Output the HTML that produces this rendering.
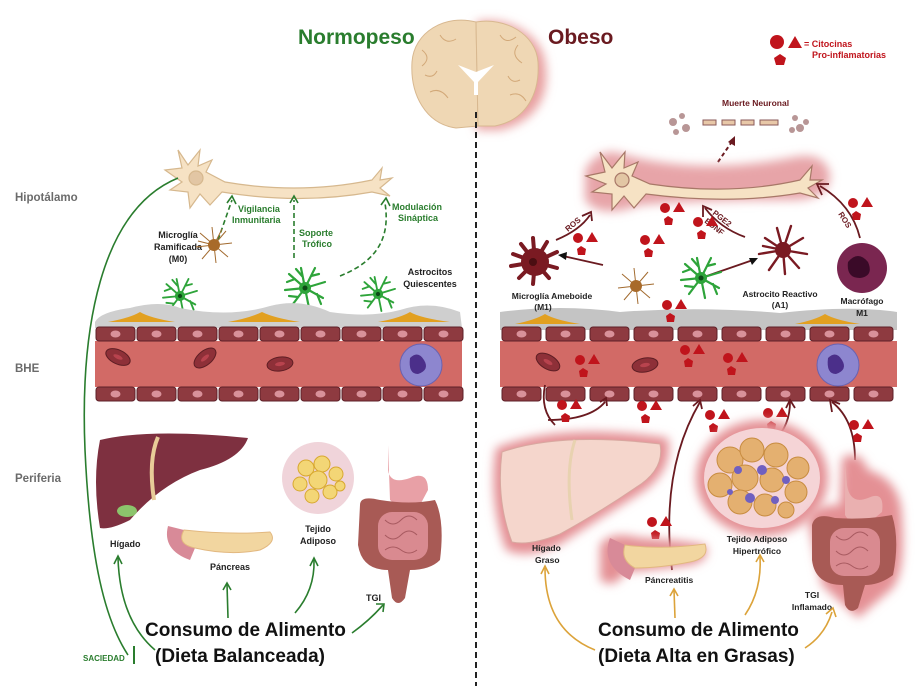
<!DOCTYPE html>
<html><head><meta charset="utf-8"><style>
html,body{margin:0;padding:0;background:#fff;}
svg{display:block;font-family:"Liberation Sans",sans-serif;}
.b{font-weight:bold;}
</style></head><body>
<svg width="915" height="686" viewBox="0 0 915 686" xmlns="http://www.w3.org/2000/svg">
<defs>
<filter id="glow" x="-30%" y="-30%" width="160%" height="160%"><feGaussianBlur stdDeviation="5"/></filter>
<g id="cyt"><circle cx="0" cy="0" r="5" fill="#c0141c"/><polygon points="8,4 14,-6 20,4" fill="#c0141c"/><polygon points="3,8 8,11 7,17 0,17 -1,11" fill="#c0141c"/></g>
<g id="cell"><rect x="0" y="0" width="39" height="14" rx="3" fill="#8e3a40" stroke="#5e2028" stroke-width="1"/><ellipse cx="19.5" cy="7" rx="5" ry="3.5" fill="#d9919a"/></g>
<g id="astro" stroke="#2ea43a" stroke-width="2.2" fill="none" stroke-linecap="round">
<path d="M0 0 L-16 -14 M-10 -9 L-18 -6 M0 0 L-4 -20 M-3 -12 L-9 -19 M0 0 L10 -20 M6 -12 L14 -14 M0 0 L20 -6 M0 0 L18 10 M12 6 L16 16 M0 0 L4 20 M0 0 L-12 16 M-7 9 L-16 8 M0 0 L-20 2"/>
<circle r="6" fill="#2ea43a" stroke="none"/><circle r="2.5" fill="#0d4a16" stroke="none"/></g>
<g id="rbc"><ellipse rx="13" ry="7" fill="#8e3038" stroke="#5e1e24"/><ellipse rx="5" ry="2" fill="#b8434e"/></g>
</defs>

<text x="298" y="44" class="b" font-size="21" fill="#2a7d2e">Normopeso</text>
<text x="548" y="44" class="b" font-size="21" fill="#6a1a20">Obeso</text>

<!-- brain -->
<path d="M476 22 C505 16 540 32 545 62 C550 92 540 120 500 130 L476 130 Z" fill="#e8a0a0" filter="url(#glow)"/>
<path d="M476 22 C445 14 414 32 412 62 C410 95 426 124 456 128 L478 126 Z" fill="#efd7b4" stroke="#d8b890"/>
<path d="M476 22 C505 17 536 34 538 62 C540 94 526 120 495 126 L478 126 Z" fill="#efd7b4" stroke="#d8b890"/>
<path d="M458 65 L476 72 L494 65 L478 82 L478 95 L474 95 L474 82 Z" fill="#fff"/>
<path d="M422 50 q10 8 0 16 M430 92 q10 -5 18 6 M518 45 q-8 10 4 18 M510 95 q10 -4 16 6 M440 35 q6 10 16 4 M500 35 q6 10 16 2 M425 75 q8 4 12 -4 M520 80 q-8 4 -12 -4" stroke="#d2a878" fill="none"/>

<circle cx="777" cy="42" r="7" fill="#c0141c"/><polygon points="788,48 795,36 802,48" fill="#c0141c"/><polygon points="780,54 786,58 784,65 776,65 774,58" fill="#c0141c"/>
<text x="804" y="47" class="b" font-size="9" fill="#c0141c">= Citocinas</text>
<text x="812" y="58" class="b" font-size="9" fill="#c0141c">Pro-inflamatorias</text>

<line x1="476" y1="112" x2="476" y2="686" stroke="#222" stroke-width="2" stroke-dasharray="6,4"/>

<text x="15" y="201" class="b" font-size="11.5" fill="#6b6b6b">Hipotálamo</text>
<text x="15" y="372" class="b" font-size="11.5" fill="#6b6b6b">BHE</text>
<text x="15" y="482" class="b" font-size="11.5" fill="#6b6b6b">Periferia</text>

<!-- LEFT neuron -->
<g fill="#f6e2c4" stroke="#d6b88e" stroke-width="1.2">
<path d="M165 170 L182 168 L178 150 L188 165 L200 150 L198 166 L212 160 L206 172 L225 182 Q300 195 372 180 L382 168 L380 180 L392 178 L380 188 L390 196 L372 192 Q300 205 222 192 L210 205 L200 194 L190 208 L188 192 L170 190 L182 182 Z"/>
<circle cx="196" cy="178" r="7" fill="#e2c6a4"/>
</g>
<path d="M178 178 C100 210 80 330 85 450 C90 560 105 620 128 655" stroke="#2a7d2e" stroke-width="1.6" fill="none"/>
<line x1="134" y1="646" x2="134" y2="664" stroke="#2a7d2e" stroke-width="2"/>
<text x="83" y="661" class="b" font-size="8" fill="#2a7d2e">SACIEDAD</text>

<g stroke="#2a7d2e" stroke-width="1.6" fill="none" stroke-dasharray="5,3">
<path d="M218 240 L232 200"/><path d="M294 258 L294 200"/><path d="M340 276 C380 260 390 235 385 203"/>
</g>
<g stroke="#2a7d2e" stroke-width="1.6" fill="none"><path d="M227 203 L232 196 L236 204 M290 203 L294 196 L298 203 M381 205 L386 198 L390 206"/></g>
<text x="238" y="212" class="b" font-size="9" fill="#2a7d2e">Vigilancia</text>
<text x="232" y="223" class="b" font-size="9" fill="#2a7d2e">Inmunitaria</text>
<text x="299" y="236" class="b" font-size="9" fill="#2a7d2e">Soporte</text>
<text x="302" y="247" class="b" font-size="9" fill="#2a7d2e">Trófico</text>
<text x="392" y="210" class="b" font-size="9" fill="#2a7d2e">Modulación</text>
<text x="398" y="221" class="b" font-size="9" fill="#2a7d2e">Sináptica</text>
<text x="178" y="238" class="b" font-size="9" fill="#222" text-anchor="middle">Microglía</text>
<text x="178" y="250" class="b" font-size="9" fill="#222" text-anchor="middle">Ramificada</text>
<text x="178" y="262" class="b" font-size="9" fill="#222" text-anchor="middle">(M0)</text>
<g stroke="#a26a2e" stroke-width="1" fill="none"><path d="M214 245 l-14 -12 M214 245 l-2 -18 M214 245 l12 -14 M214 245 l18 -2 M214 245 l14 12 M214 245 l2 18 M214 245 l-12 14 M214 245 l-18 2 M214 245 l-16 -4 M214 245 l8 -16"/></g>
<circle cx="214" cy="245" r="6" fill="#a86a2a"/>
<text x="430" y="275" class="b" font-size="9" fill="#222" text-anchor="middle">Astrocitos</text>
<text x="430" y="287" class="b" font-size="9" fill="#222" text-anchor="middle">Quiescentes</text>
<use href="#astro" transform="translate(180,296) scale(0.85)"/>
<use href="#astro" transform="translate(305,288)"/>
<use href="#astro" transform="translate(378,294) scale(0.85)"/>

<!-- LEFT vessel -->
<path d="M95 322 Q100 312 130 308 Q160 300 180 308 Q230 318 270 306 Q300 298 330 312 Q370 318 400 310 Q430 300 460 312 L462 328 L95 328 Z" fill="#cfcfcf"/>
<g fill="#e2a020"><path d="M108 322 Q130 318 140 312 Q150 318 175 322 Z"/><path d="M228 322 Q250 318 262 312 Q274 318 300 322 Z"/><path d="M378 322 Q400 318 410 312 Q420 318 450 322 Z"/></g>
<rect x="95" y="341" width="367" height="46" fill="#d26a66"/>
<g id="rowL1">
<use href="#cell" x="96" y="327"/><use href="#cell" x="137" y="327"/><use href="#cell" x="178" y="327"/><use href="#cell" x="219" y="327"/><use href="#cell" x="260" y="327"/><use href="#cell" x="301" y="327"/><use href="#cell" x="342" y="327"/><use href="#cell" x="383" y="327"/><use href="#cell" x="424" y="327"/>
</g>
<use href="#rowL1" y="60"/>
<use href="#rbc" transform="translate(118,357) rotate(25)"/>
<use href="#rbc" transform="translate(205,358) rotate(-40)"/>
<use href="#rbc" transform="translate(280,364) rotate(-8)"/>
<circle cx="421" cy="365" r="21" fill="#8d86cf" stroke="#6a62b0"/><path d="M410 358 q8 -8 14 2 q6 10 -6 14 q-10 0 -8 -16z" fill="#4b2f8a"/>

<!-- LEFT organs -->
<path d="M100 440 Q150 428 248 438 Q240 460 200 470 Q160 485 130 520 Q110 530 100 528 Q92 480 100 440 Z" fill="#7e3040"/>
<path d="M158 437 Q148 460 154 500" stroke="#e8cc98" stroke-width="4" fill="none"/>
<ellipse cx="127" cy="511" rx="10" ry="6" fill="#8cc46c"/>
<text x="110" y="547" class="b" font-size="9" fill="#222">Hígado</text>
<path d="M168 526 Q162 550 190 560 L195 548 Q176 544 184 530 Z" fill="#d88a98"/>
<path d="M184 530 Q230 535 270 532 Q278 542 260 550 Q230 556 195 548 Q176 544 184 530 Z" fill="#f2d6a0" stroke="#e2b880"/>
<text x="210" y="570" class="b" font-size="9" fill="#222">Páncreas</text>
<circle cx="318" cy="478" r="36" fill="#f0d4da"/>
<g fill="#f3d676" stroke="#d8a830"><circle cx="306" cy="468" r="8"/><circle cx="322" cy="464" r="8"/><circle cx="336" cy="474" r="7"/><circle cx="318" cy="480" r="9"/><circle cx="300" cy="484" r="7"/><circle cx="312" cy="496" r="7"/><circle cx="330" cy="492" r="7"/><circle cx="340" cy="486" r="5"/></g>
<text x="318" y="532" class="b" font-size="9" fill="#222" text-anchor="middle">Tejido</text>
<text x="318" y="544" class="b" font-size="9" fill="#222" text-anchor="middle">Adiposo</text>
<path d="M388 445 L388 470 Q390 485 410 478 Q428 470 428 490 L420 505 Q400 510 390 500 Z" fill="#e8a0a6"/>
<path d="M360 505 Q360 495 380 500 Q410 505 435 500 Q445 520 440 560 Q430 570 410 570 L405 598 Q398 608 392 598 L388 570 Q362 570 358 545 Z" fill="#a85a55"/>
<rect x="378" y="512" width="50" height="48" rx="14" fill="#d98a90"/>
<path d="M385 520 q8 8 16 0 q8 -8 16 0 M385 535 q8 8 16 0 q8 -8 16 0 M385 550 q8 -6 16 0 q8 6 16 0" stroke="#a85a60" fill="none"/>
<text x="366" y="601" class="b" font-size="9" fill="#222">TGI</text>

<g stroke="#2a7d2e" stroke-width="1.6" fill="none">
<path d="M155 650 Q120 620 118 558"/><path d="M114 564 L118 556 L122 564"/>
<path d="M228 618 L227 584"/><path d="M223 590 L227 583 L231 590"/>
<path d="M295 613 Q315 590 314 560"/><path d="M310 566 L314 558 L318 566"/>
<path d="M352 633 Q370 620 383 605"/><path d="M376 604 L384 604 L383 612"/>
</g>
<text x="145" y="636" class="b" font-size="19" fill="#111">Consumo de Alimento</text>
<text x="155" y="662" class="b" font-size="19" fill="#111">(Dieta Balanceada)</text>

<!-- RIGHT -->
<text x="722" y="106" class="b" font-size="8.5" fill="#6a1a20">Muerte Neuronal</text>
<g fill="#b89696"><circle cx="673" cy="122" r="4"/><circle cx="682" cy="116" r="3"/><circle cx="686" cy="128" r="4"/><circle cx="676" cy="132" r="3"/><circle cx="795" cy="118" r="3"/><circle cx="800" cy="128" r="4"/><circle cx="792" cy="130" r="3"/><circle cx="806" cy="122" r="3"/></g>
<g fill="#e8c8a8" stroke="#8a5a5a"><rect x="703" y="120" width="13" height="5"/><rect x="722" y="120" width="13" height="5"/><rect x="741" y="120" width="13" height="5"/><rect x="760" y="120" width="18" height="5"/></g>
<path d="M718 162 L733 140" stroke="#6a1a20" stroke-width="2" stroke-dasharray="4,3"/><polygon points="735,136 735,146 728,142" fill="#6a1a20"/>

<path d="M585 170 Q600 145 625 155 Q700 175 790 158 Q825 150 830 175 Q830 200 790 200 Q700 200 640 205 Q600 220 585 200 Z" fill="#e7a4a8" filter="url(#glow)"/>
<g fill="#f6e2c4" stroke="#a87868" stroke-width="1.2">
<path d="M586 176 L605 172 L600 152 L612 168 L625 152 L624 168 L638 162 L632 176 L650 184 Q730 196 800 180 L812 166 L810 180 L822 180 L808 188 L818 198 L800 193 Q730 205 646 194 L634 208 L624 196 L612 210 L612 194 L592 192 L606 184 Z"/>
<circle cx="622" cy="180" r="7" fill="#e2c6a4"/>
</g>

<!-- RIGHT vessel (drawn before cells/labels) -->
<path d="M500 312 Q560 304 620 312 Q700 306 780 313 Q850 305 897 312 L897 330 L500 330 Z" fill="#c4c4c4"/>
<g fill="#e2a020"><path d="M515 324 Q535 320 545 314 Q555 320 580 324 Z"/><path d="M795 324 Q815 320 825 314 Q835 320 860 324 Z"/></g>
<rect x="500" y="341" width="397" height="46" fill="#d26a66"/>
<g id="rowR1">
<use href="#cell" x="502" y="327"/><use href="#cell" x="546" y="327"/><use href="#cell" x="590" y="327"/><use href="#cell" x="634" y="327"/><use href="#cell" x="678" y="327"/><use href="#cell" x="722" y="327"/><use href="#cell" x="766" y="327"/><use href="#cell" x="810" y="327"/><use href="#cell" x="854" y="327"/>
</g>
<use href="#rowR1" y="60"/>
<use href="#rbc" transform="translate(548,362) rotate(30)"/>
<use href="#rbc" transform="translate(645,365) rotate(-10)"/>
<use href="#cyt" x="580" y="360"/><use href="#cyt" x="728" y="358"/><use href="#cyt" x="685" y="350"/>
<circle cx="838" cy="365" r="21" fill="#8d86cf" stroke="#6a62b0"/><path d="M828 358 q8 -8 14 2 q6 10 -6 14 q-10 0 -8 -16z" fill="#4b2f8a"/>

<g stroke="#6a1a20" stroke-width="1.8" fill="none">
<path d="M556 240 Q580 230 590 215"/><path d="M582 216 L591 212 L592 221"/>
<path d="M745 237 Q720 228 705 208"/><path d="M703 217 L703 206 L712 210"/>
<path d="M860 238 Q852 205 820 186"/><path d="M822 195 L817 184 L829 184"/>
<path d="M603 265 L563 256"/><path d="M701 278 L753 260"/>
</g>
<polygon points="558,255 567,252 566,260" fill="#111"/><polygon points="758,258 749,258 752,265" fill="#111"/>
<text transform="translate(568,232) rotate(-40)" class="b" font-size="8" fill="#6a1a20">ROS</text>
<text transform="translate(712,214) rotate(38)" class="b" font-size="8" fill="#6a1a20">PGE2</text>
<text transform="translate(704,222) rotate(38)" class="b" font-size="8" fill="#6a1a20">BDNF</text>
<text transform="translate(838,214) rotate(58)" class="b" font-size="8" fill="#6a1a20">ROS</text>
<use href="#cyt" x="578" y="238"/><use href="#cyt" x="665" y="208"/><use href="#cyt" x="645" y="240"/><use href="#cyt" x="698" y="222"/><use href="#cyt" x="853" y="203"/><use href="#cyt" x="667" y="305"/>

<g stroke="#7a1a22" stroke-width="4" stroke-linecap="round"><path d="M535 262 l-22 -8 M535 262 l-14 -18 M535 262 l-2 -24 M535 262 l12 -20 M535 262 l22 -10 M535 262 l22 6 M535 262 l14 16 M535 262 l-2 22 M535 262 l-16 16 M535 262 l-24 4"/></g>
<circle cx="535" cy="262" r="14" fill="#7a1a22"/><circle cx="533" cy="262" r="4" fill="#4a0e12"/>
<text x="552" y="299" class="b" font-size="8.5" fill="#222" text-anchor="middle">Microglía Ameboide</text>
<text x="543" y="310" class="b" font-size="8.5" fill="#222" text-anchor="middle">(M1)</text>
<g stroke="#a26a2e" stroke-width="1" fill="none"><path d="M636 286 l-14 -12 M636 286 l-2 -18 M636 286 l12 -14 M636 286 l18 -2 M636 286 l14 12 M636 286 l2 18 M636 286 l-12 14 M636 286 l-18 2"/></g>
<circle cx="636" cy="286" r="6" fill="#a86a2a"/>
<use href="#astro" transform="translate(701,278)"/>
<g stroke="#7a1a22" stroke-width="2.4" fill="none" stroke-linecap="round"><path d="M783 250 l-18 -12 M783 250 l-6 -22 M783 250 l8 -24 M783 250 l20 -12 M783 250 l24 4 M783 250 l16 18 M783 250 l2 24 M783 250 l-14 20 M783 250 l-24 4 M783 250 l-20 -4"/></g>
<circle cx="783" cy="250" r="8" fill="#7a1a22"/>
<text x="780" y="297" class="b" font-size="8.5" fill="#222" text-anchor="middle">Astrocito Reactivo</text>
<text x="780" y="308" class="b" font-size="8.5" fill="#222" text-anchor="middle">(A1)</text>
<circle cx="862" cy="268" r="25" fill="#7a2650"/><path d="M848 262 q10 -12 20 0 q6 14 -8 16 q-14 0 -12 -16z" fill="#3a0a28"/>
<text x="862" y="304" class="b" font-size="8.5" fill="#222" text-anchor="middle">Macrófago</text>
<text x="862" y="316" class="b" font-size="8.5" fill="#222" text-anchor="middle">M1</text>

<g stroke="#6a1a20" stroke-width="1.8" fill="none">
<path d="M555 425 Q540 410 545 385"/><path d="M548 420 Q590 420 605 402"/><path d="M600 402 L606 398 L607 406"/>
<path d="M672 570 Q660 470 700 402"/><path d="M693 406 L700 400 L702 409"/>
<path d="M775 440 Q790 425 790 402"/><path d="M786 408 L790 400 L795 408"/>
<path d="M855 460 Q855 420 832 402"/><path d="M832 412 L830 400 L840 404"/>
</g>
<use href="#cyt" x="562" y="405"/><use href="#cyt" x="642" y="406"/><use href="#cyt" x="710" y="415"/><use href="#cyt" x="768" y="413"/><use href="#cyt" x="854" y="425"/><use href="#cyt" x="652" y="522"/>

<!-- right organs -->
<path d="M496 448 Q560 422 668 438 Q674 470 642 492 Q600 518 560 544 Q528 560 506 550 Q488 500 496 448 Z" fill="#e49094" filter="url(#glow)"/>
<path d="M502 452 Q560 432 660 444 Q665 470 635 488 Q600 512 560 534 Q530 546 512 542 Q496 500 502 452 Z" fill="#f5d6cc" stroke="#d8a8a0"/>
<path d="M575 440 Q565 470 572 520" stroke="#e8d2b0" stroke-width="3" fill="none"/>
<text x="532" y="551" class="b" font-size="8.5" fill="#222">Hígado</text>
<text x="535" y="563" class="b" font-size="8.5" fill="#222">Graso</text>
<path d="M600 545 Q610 530 640 538 Q680 540 705 545 Q712 560 690 565 Q650 570 625 572 Q615 590 600 580 Z" fill="#e49094" filter="url(#glow)"/>
<path d="M610 538 Q600 565 630 580 L635 568 Q620 560 625 545 Z" fill="#d88a98"/>
<path d="M625 545 Q660 550 705 544 Q710 558 690 562 Q660 568 635 568 Q620 560 625 545 Z" fill="#f2d6a0" stroke="#e2b880"/>
<text x="645" y="583" class="b" font-size="8.5" fill="#222">Páncreatitis</text>
<ellipse cx="762" cy="478" rx="66" ry="58" fill="#e49094" filter="url(#glow)"/>
<ellipse cx="762" cy="478" rx="58" ry="50" fill="#f5d4d6"/>
<g fill="#e4b070" stroke="#c88c40"><circle cx="730" cy="460" r="13"/><circle cx="752" cy="450" r="12"/><circle cx="776" cy="455" r="12"/><circle cx="798" cy="468" r="11"/><circle cx="720" cy="485" r="12"/><circle cx="745" cy="478" r="13"/><circle cx="772" cy="480" r="12"/><circle cx="796" cy="492" r="11"/><circle cx="740" cy="502" r="12"/><circle cx="765" cy="505" r="11"/><circle cx="786" cy="510" r="8"/></g>
<g fill="#7060c0"><circle cx="738" cy="470" r="4"/><circle cx="762" cy="470" r="5"/><circle cx="786" cy="480" r="4"/><circle cx="750" cy="498" r="5"/><circle cx="730" cy="492" r="3"/><circle cx="775" cy="500" r="4"/></g>
<text x="757" y="542" class="b" font-size="8.5" fill="#222" text-anchor="middle">Tejido Adiposo</text>
<text x="757" y="554" class="b" font-size="8.5" fill="#222" text-anchor="middle">Hipertrófico</text>
<path d="M808 520 Q810 505 840 505 L842 458 Q860 448 868 470 Q902 480 902 520 Q906 580 888 592 L858 618 L822 585 Z" fill="#e49094" filter="url(#glow)"/>
<path d="M845 460 L847 485 Q850 505 868 498 Q885 490 882 512 L870 522 Q850 525 845 515 Z" fill="#eab0b0"/>
<path d="M812 525 Q815 512 835 518 Q865 520 892 515 Q900 540 893 575 Q880 585 865 585 L858 608 Q850 615 845 605 L843 585 Q815 585 812 560 Z" fill="#a85a55"/>
<rect x="830" y="528" width="50" height="48" rx="14" fill="#d98a90"/>
<path d="M836 536 q8 8 16 0 q8 -8 16 0 M836 551 q8 8 16 0 q8 -8 16 0 M836 566 q8 -6 16 0 q8 6 16 0" stroke="#a85a60" fill="none"/>
<text x="812" y="598" class="b" font-size="8.5" fill="#222" text-anchor="middle">TGI</text>
<text x="812" y="610" class="b" font-size="8.5" fill="#222" text-anchor="middle">Inflamado</text>

<g stroke="#dca33a" stroke-width="1.6" fill="none">
<path d="M595 650 Q545 630 545 568"/><path d="M541 574 L545 566 L549 574"/>
<path d="M675 618 L674 590"/><path d="M670 596 L674 589 L678 596"/>
<path d="M745 615 Q762 590 760 556"/><path d="M756 562 L760 555 L764 562"/>
<path d="M805 648 Q825 635 832 612"/><path d="M826 614 L833 608 L836 617"/>
</g>
<text x="598" y="636" class="b" font-size="19" fill="#111">Consumo de Alimento</text>
<text x="598" y="662" class="b" font-size="19" fill="#111">(Dieta Alta en Grasas)</text>
</svg>
</body></html>
